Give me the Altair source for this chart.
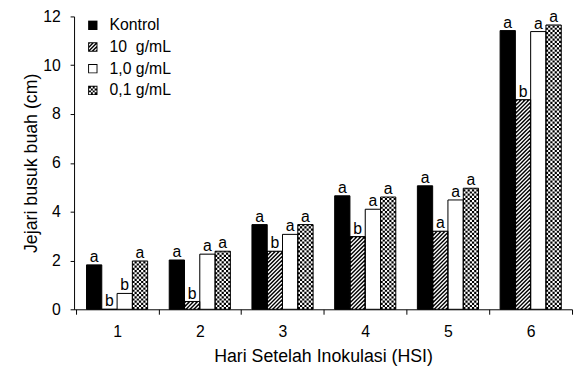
import json
import altair as alt
import pandas as pd

# ---------------- data ----------------
groups = ["1", "2", "3", "4", "5", "6"]
treatments = ["Kontrol", "10\u00a0 g/mL", "1,0 g/mL", "0,1 g/mL"]
values_kontrol = [1.82, 2.02, 3.47, 4.65, 5.06, 11.42]
values_10 = [0.0, 0.32, 2.38, 2.98, 3.20, 8.59]
values_1_0 = [0.65, 2.26, 3.07, 4.10, 4.48, 11.38]
values_0_1 = [1.98, 2.38, 3.47, 4.60, 4.96, 11.65]
letters_kontrol = ["a", "a", "a", "a", "a", "a"]
letters_10 = ["b", "b", "b", "b", "a", "b"]
letters_1_0 = ["b", "a", "a", "a", "a", "a"]
letters_0_1 = ["a", "a", "a", "a", "a", "a"]
y_ticks = [0, 2, 4, 6, 8, 10, 12]

# ---------------- layout ----------------
PLOT_W, PLOT_H = 505, 297
Y_MAX = 12
X_DOMAIN = [0.48, len(groups) + 0.5]
UX = PLOT_W / (X_DOMAIN[1] - X_DOMAIN[0])
UY = PLOT_H / Y_MAX
BAR_PX = 15.5
BW = BAR_PX / UX
FONT = "Liberation Sans"

series = [values_kontrol, values_10, values_1_0, values_0_1]
letters = [letters_kontrol, letters_10, letters_1_0, letters_0_1]

rows = []
for gi, g in enumerate(groups):
    for ti, t in enumerate(treatments):
        x0 = gi + 1 + (ti - 2) * BW
        rows.append(dict(hari=g, perlakuan=t, ti=ti, nilai=series[ti][gi],
                         huruf=letters[ti][gi], x0=x0, x1=x0 + BW, xc=x0 + BW / 2))
bars = pd.DataFrame(rows)

# diagonal hatch (white lines on black) for the 10 g/mL bars
HATCH_P = 4.0
hatch = []
for r in rows:
    if r["ti"] != 1 or r["nilai"] <= 0:
        continue
    h = r["nilai"] * UY
    xa, xb, ya, yb = 0.6, BAR_PX - 0.6, 0.0, h - 0.6
    c = -BAR_PX
    while c < h:
        xs_ = max(xa, ya - c)
        xe_ = min(xb, yb - c)
        if xe_ > xs_:
            hatch.append(dict(hx0=r["x0"] + xs_ / UX, hy0=(xs_ + c) / UY,
                              hx1=r["x0"] + xe_ / UX, hy1=(xe_ + c) / UY))
        c += HATCH_P
hatch_df = pd.DataFrame(hatch)

# checkerboard for the 0,1 g/mL bars
N_COLS = 7
CELL = BAR_PX / N_COLS
checker = []
for r in rows:
    if r["ti"] != 3:
        continue
    for k in range(N_COLS):
        checker.append(dict(cx=r["x0"] + (k + 0.5) * CELL / UX, cy0=0.0,
                            cy1=r["nilai"], fase=k % 2))
checker_df = pd.DataFrame(checker)


# ---------------- legend symbol paths ----------------
def clip(poly, a, b, c):
    out = []
    n = len(poly)
    for i in range(n):
        p, q = poly[i], poly[(i + 1) % n]
        fp = a * p[0] + b * p[1] - c
        fq = a * q[0] + b * q[1] - c
        if fp <= 0:
            out.append(p)
        if (fp < 0 < fq) or (fq < 0 < fp):
            t = fp / (fp - fq)
            out.append((p[0] + t * (q[0] - p[0]), p[1] + t * (q[1] - p[1])))
    return out


def area(poly):
    return sum(poly[i][0] * poly[(i + 1) % len(poly)][1] -
               poly[(i + 1) % len(poly)][0] * poly[i][1] for i in range(len(poly))) / 2


def to_path(poly, sign):
    if (area(poly) > 0) != (sign > 0):
        poly = poly[::-1]
    return "M" + "L".join(f"{x:.3f},{y:.3f}" for x, y in poly) + "Z"


def square(a, b, c, d):
    return [(a, b), (c, b), (c, d), (a, d)]


outer = to_path(square(-1, -1, 1, 1), 1)
inner_hole = to_path(square(-0.8, -0.8, 0.8, 0.8), -1)
path_solid = outer
path_frame = outer + inner_hole
path_hatch = outer
for c1 in [-1.4, -0.6, 0.2, 1.0]:
    band = clip(clip(square(-0.8, -0.8, 0.8, 0.8), -1, -1, -c1), 1, 1, c1 + 0.38)
    if len(band) >= 3 and abs(area(band)) > 1e-4:
        path_hatch += to_path(band, -1)
path_check = path_frame
for i in range(4):
    for j in range(4):
        if (i + j) % 2 == 0:
            x = -0.8 + 0.4 * i
            y = -0.8 + 0.4 * j
            path_check += to_path(square(x, y, x + 0.4, y + 0.4), 1)
legend_paths = [path_solid, path_hatch, path_frame, path_check]
shape_expr = (f"{json.dumps(legend_paths)}"
              f"[indexof({json.dumps(treatments, ensure_ascii=False)}, datum.value)]")

# ---------------- chart ----------------
xs = alt.Scale(domain=X_DOMAIN, nice=False, zero=False)
ys = alt.Scale(domain=[0, Y_MAX], nice=False)
X_TITLE = "Hari Setelah Inokulasi (HSI)"
Y_TITLE = "Jejari busuk buah (cm)"

x_axis = alt.Axis(
    values=[i + 0.5 for i in range(len(groups) + 1)],
    labelExpr=f"{json.dumps(groups)}[round(datum.value - 0.5)] || ''",
    labelOffset=UX / 2, labelFlush=False, labelOverlap=False, labelBound=False,
    tickSize=5, labelPadding=10, grid=False,
    title=X_TITLE, titlePadding=8,
    labelFontSize=16, titleFontSize=18, titleFontWeight="normal",
    domainColor="black", tickColor="black", labelColor="black", titleColor="black",
)
y_axis = alt.Axis(
    values=y_ticks, tickSize=4, labelPadding=10, grid=False,
    title=Y_TITLE, titlePadding=2,
    labelFontSize=16, titleFontSize=18, titleFontWeight="normal",
    domainColor="black", tickColor="black", labelColor="black", titleColor="black",
)


def X(field):
    return alt.X(field, scale=xs, axis=x_axis, title=X_TITLE)


def Y(field):
    return alt.Y(field, scale=ys, axis=y_axis, title=Y_TITLE)


fill_layer = alt.Chart(bars).mark_rect(strokeWidth=0).encode(
    x=X("x0:Q"), x2="x1:Q",
    y=Y("nilai:Q"), y2=alt.datum(0),
    fill=alt.Fill(
        "perlakuan:N",
        scale=alt.Scale(domain=treatments, range=["black", "black", "black", "black"]),
        legend=alt.Legend(
            title=None, orient="none", legendX=11, legendY=1, padding=0,
            labelFontSize=16, labelColor="black", symbolSize=90, labelOffset=9,
            rowPadding=6,
            symbolType={"expr": shape_expr},
            symbolStrokeWidth=0,
        ),
    ),
)

white_layer = alt.Chart(bars).transform_filter("datum.ti >= 2").mark_rect(
    fill="white", strokeWidth=0
).encode(
    x=X("x0:Q"), x2="x1:Q", y=Y("nilai:Q"), y2=alt.datum(0),
)

hatch_layer = alt.Chart(hatch_df).mark_rule(
    color="white", strokeWidth=1.4, strokeCap="butt"
).encode(
    x=X("hx0:Q"), x2="hx1:Q", y=Y("hy0:Q"), y2="hy1:Q",
)

check_even = alt.Chart(checker_df).transform_filter("datum.fase == 0").mark_rule(
    color="black", strokeWidth=CELL, strokeDash=[CELL, CELL], strokeDashOffset=0,
    strokeCap="butt",
).encode(
    x=X("cx:Q"), y=Y("cy0:Q"), y2="cy1:Q",
)
check_odd = alt.Chart(checker_df).transform_filter("datum.fase == 1").mark_rule(
    color="black", strokeWidth=CELL, strokeDash=[CELL, CELL], strokeDashOffset=CELL,
    strokeCap="butt",
).encode(
    x=X("cx:Q"), y=Y("cy0:Q"), y2="cy1:Q",
)

outline_layer = alt.Chart(bars).mark_rect(
    fillOpacity=0, stroke="black", strokeWidth=1
).encode(
    x=X("x0:Q"), x2="x1:Q", y=Y("nilai:Q"), y2=alt.datum(0),
)

text_layer = alt.Chart(bars).mark_text(
    baseline="alphabetic", dy=-3, fontSize=16, color="black", font=FONT
).encode(
    x=X("xc:Q"), y=Y("nilai:Q"), text="huruf:N",
)

chart = alt.layer(
    fill_layer, white_layer, hatch_layer, check_even, check_odd, outline_layer, text_layer
).properties(
    width=PLOT_W, height=PLOT_H,
    padding={"left": 67, "top": 6, "right": 2, "bottom": 58},
    autosize=alt.AutoSizeParams(type="none"),
).configure(font=FONT).configure_view(strokeWidth=0)

chart.save("out.html", embed_options={"renderer": "svg", "actions": False})
